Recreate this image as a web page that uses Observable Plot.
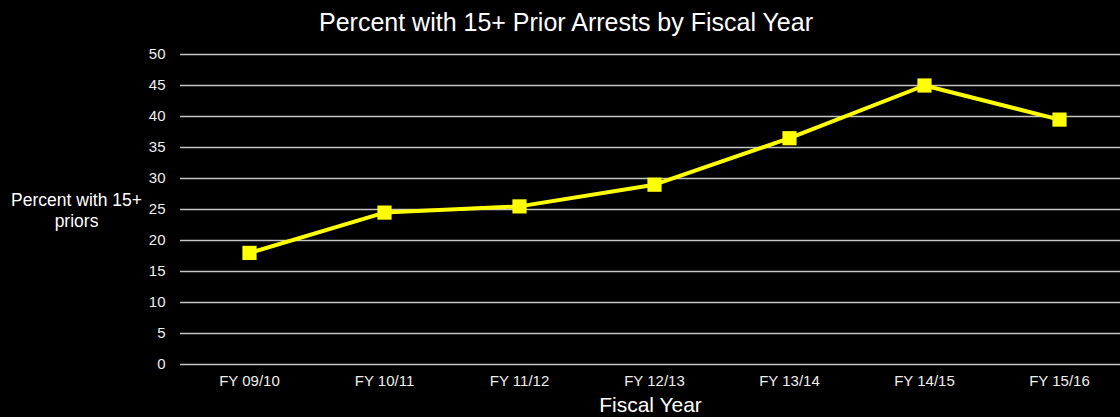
<!DOCTYPE html>
<html>
<head>
<meta charset="utf-8">
<script src="https://cdn.jsdelivr.net/npm/d3@7"></script>
<script src="https://cdn.jsdelivr.net/npm/@observablehq/plot@0.6"></script>
<style>
  html, body { margin: 0; padding: 0; background: #000; }
  body { width: 1120px; height: 417px; overflow: hidden; font-family: "Liberation Sans", Arial, sans-serif; }
  #title { height: 44px; line-height: 44px; text-align: center; color: #fff; font-size: 25px; padding-left: 12px; }
</style>
</head>
<body>
<div id="title">Percent with 15+ Prior Arrests by Fiscal Year</div>
<div id="chart"></div>
<script>
const years = ["FY 09/10", "FY 10/11", "FY 11/12", "FY 12/13", "FY 13/14", "FY 14/15", "FY 15/16"];
const percents = [18, 24.5, 25.5, 29, 36.5, 45, 39.5];
const yTicks = [0, 5, 10, 15, 20, 25, 30, 35, 40, 45, 50];

const data = years.map((year, i) => ({year, value: percents[i]}));

const chart = Plot.plot({
  width: 1120,
  height: 373,
  marginLeft: 180,
  marginRight: 0,
  marginTop: 10,
  marginBottom: 53,
  style: {background: "#000", color: "#fff", fontFamily: "'Liberation Sans', Arial, sans-serif", fontSize: "15px"},
  x: {type: "point", domain: years, range: [180, 1128], padding: 0.5, label: null},
  y: {domain: [0, 50], label: null},
  marks: [
    Plot.ruleY(yTicks, {stroke: "#c4c4c4", strokeWidth: 1.5}),
    Plot.axisY({ticks: yTicks, tickSize: 0, tickPadding: 15, label: null, fontSize: 15, fill: "#eee"}),
    Plot.axisX({tickSize: 0, tickPadding: 11, label: null, fontSize: 15, fill: "#eee"}),
    Plot.line(data, {x: "year", y: "value", stroke: "#ffff00", strokeWidth: 4}),
    Plot.dot(data, {x: "year", y: "value", symbol: "square", r: 8, fill: "#ffff00", stroke: "none"}),
    Plot.text(["Percent with 15+\npriors"], {frameAnchor: "left", dx: -104, textAnchor: "middle", lineAnchor: "middle", fill: "#fff", fontSize: 17.5, lineHeight: 1.2}),
    Plot.text(["Fiscal Year"], {frameAnchor: "bottom", dy: 41, lineAnchor: "middle", fill: "#fff", fontSize: 21})
  ]
});
document.getElementById("chart").appendChild(chart);
</script>
</body>
</html>
